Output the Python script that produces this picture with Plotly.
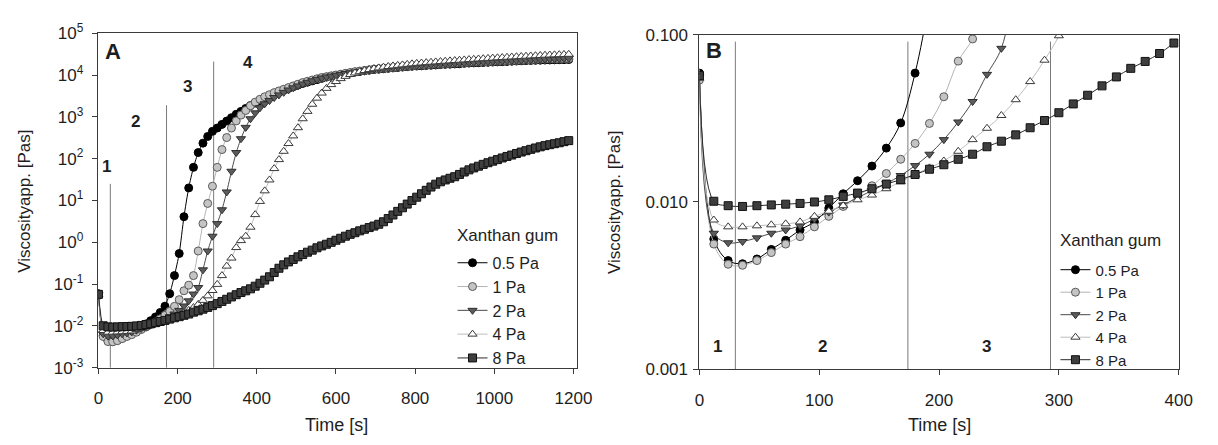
import math
import plotly.graph_objects as go

# ---------------- data ----------------
time_s = [0, 12, 24, 36, 48, 60, 72, 84, 96, 108,
          120, 132, 144, 156, 168, 180, 192, 204, 216, 228,
          240, 252, 264, 276, 288, 300, 312, 324, 336, 348,
          360, 372, 384, 396, 408, 420, 432, 444, 456, 468,
          480, 492, 504, 516, 528, 540, 552, 564, 576, 588,
          600, 612, 624, 636, 648, 660, 672, 684, 696, 708,
          720, 732, 744, 756, 768, 780, 792, 804, 816, 828,
          840, 852, 864, 876, 888, 900, 912, 924, 936, 948,
          960, 972, 984, 996, 1008, 1020, 1032, 1044, 1056, 1068,
          1080, 1092, 1104, 1116, 1128, 1140, 1152, 1164, 1176, 1188]

visc_05pa = [0.059, 0.0060, 0.00446, 0.00427, 0.00456, 0.0052, 0.0059, 0.0068, 0.0076, 0.0092,
             0.0112, 0.0134, 0.0164, 0.021, 0.0297, 0.059, 0.16, 0.54, 4.1, 20,
             62, 140, 235, 340, 450, 540, 660, 795, 955, 1150,
             1350, 1585, 1860, 2140, 2450, 2820, 3160, 3550, 3980, 4370,
             4790, 5250, 5750, 6310, 6760, 7240, 7760, 8320, 8910, 9330,
             9770, 10230, 10700, 11200, 11750, 12160, 12590, 13030, 13490, 13800,
             14130, 14450, 14790, 15140, 15490, 15850, 16220, 16410, 16600, 16980,
             17180, 17380, 17780, 17990, 18200, 18410, 18620, 19050, 19280, 19500,
             19720, 19950, 20180, 20420, 20650, 20890, 21130, 21380, 21630, 21880,
             22130, 22390, 22490, 22650, 22800, 22910, 23070, 23230, 23330, 23440]

visc_1pa = [0.0536, 0.0056, 0.00424, 0.00418, 0.00446, 0.00498, 0.0056, 0.0062, 0.0071, 0.0082,
            0.0094, 0.0108, 0.0125, 0.0148, 0.018, 0.0224, 0.0295, 0.0426, 0.0696, 0.0945,
            0.16, 0.62, 2.8, 8.5, 22, 62, 165, 320, 540, 800,
            1100, 1420, 1850, 2250, 2630, 3020, 3390, 3800, 4170, 4570,
            5010, 5500, 6030, 6610, 7080, 7590, 8130, 8710, 9120, 9550,
            10000, 10470, 10960, 11480, 12020, 12450, 12880, 13340, 13800, 14130,
            14450, 14790, 15140, 15490, 15850, 16220, 16600, 16980, 17180, 17380,
            17780, 17990, 18200, 18620, 18840, 19050, 19500, 19720, 19950, 20180,
            20420, 20650, 20890, 21130, 21380, 21630, 21880, 22130, 22390, 22650,
            22910, 23170, 23440, 23710, 23990, 24100, 24270, 24430, 24550, 24700]

visc_2pa = [0.056, 0.0065, 0.0057, 0.0058, 0.0061, 0.0065, 0.0068, 0.0072, 0.0079, 0.0087,
            0.0096, 0.0106, 0.0117, 0.0129, 0.0144, 0.0165, 0.0193, 0.0236, 0.0301, 0.0399,
            0.058, 0.083, 0.22, 0.62, 1.4, 2.8, 6, 16, 50, 140,
            300, 560, 900, 1250, 1650, 2050, 2450, 2900, 3350, 3850,
            4400, 4950, 5500, 6100, 6700, 7300, 7900, 8500, 9000, 9450,
            9900, 10350, 10850, 11350, 11850, 12300, 12750, 13200, 13650, 14000,
            14350, 14700, 15050, 15400, 15750, 16100, 16450, 16800, 17050, 17300,
            17600, 17850, 18100, 18400, 18650, 18900, 19250, 19500, 19750, 20000,
            20250, 20500, 20750, 21000, 21250, 21500, 21800, 22050, 22300, 22550,
            22800, 23100, 23350, 23600, 23850, 24100, 24350, 24600, 24850, 25100]

visc_4pa = [0.055, 0.0078, 0.0071, 0.0071, 0.0072, 0.0073, 0.0074, 0.0076, 0.0082, 0.0088,
            0.0095, 0.0103, 0.0110, 0.0120, 0.0132, 0.0146, 0.0160, 0.0176, 0.0201, 0.0236,
            0.0276, 0.0329, 0.0409, 0.0525, 0.0705, 0.0987, 0.16, 0.27, 0.42, 0.75,
            1.1, 1.4, 2.3, 4.6, 9.5, 17, 31, 58, 95, 150,
            230, 350, 550, 900, 1350, 2000, 2800, 3700, 4800, 5900,
            7000, 8200, 9300, 10300, 11200, 12000, 12800, 13500, 14200, 14800,
            15400, 16000, 16500, 17000, 17500, 18000, 18500, 19000, 19400, 19800,
            20200, 20600, 21000, 21400, 21800, 22200, 22600, 23000, 23400, 23800,
            24200, 24600, 25000, 25400, 25800, 26200, 26600, 27000, 27400, 27800,
            28200, 28600, 29000, 29400, 29800, 30100, 30400, 30700, 31000, 31300]

visc_8pa = [0.057, 0.0101, 0.0095, 0.0094, 0.0095, 0.0096, 0.0097, 0.0098, 0.0100, 0.0103,
            0.0108, 0.0113, 0.0120, 0.0128, 0.0136, 0.0146, 0.0157, 0.0167, 0.0180, 0.0193,
            0.0214, 0.0231, 0.0252, 0.0278, 0.0307, 0.0342, 0.0386, 0.0435, 0.0495, 0.056,
            0.063, 0.0693, 0.0773, 0.0893, 0.105, 0.125, 0.15, 0.19, 0.24, 0.29,
            0.34, 0.39, 0.45, 0.51, 0.58, 0.65, 0.74, 0.82, 0.90, 1.0,
            1.12, 1.25, 1.40, 1.55, 1.70, 1.88, 2.05, 2.25, 2.45, 2.7,
            3.1, 3.7, 4.5, 5.5, 6.7, 8.2, 10, 12, 14.5, 17.5,
            21, 24.5, 28, 31, 34, 37, 42, 48, 54, 60,
            66, 73, 80, 87, 95, 104, 113, 122, 133, 144,
            155, 167, 180, 192, 205, 216, 228, 240, 255, 270]

series_names = ["0.5 Pa", "1 Pa", "2 Pa", "4 Pa", "8 Pa"]
series_values = [visc_05pa, visc_1pa, visc_2pa, visc_4pa, visc_8pa]
legend_title = "Xanthan gum"

# phase boundary lines (time, top value) and phase labels
phase_lines_a_t = [30, 172, 291]
phase_lines_a_top = [25, 1900, 21000]
phase_labels_a = ["1", "2", "3", "4"]
phase_labels_a_t = [20, 94, 226, 378]
phase_labels_a_v = [66, 770, 5340, 19700]

phase_lines_b_t = [30, 174, 293]
phase_lines_b_top = 0.091
phase_labels_b = ["1", "2", "3"]
phase_labels_b_t = [15, 103, 240]
phase_labels_b_v = [0.00137, 0.00137, 0.00137]

xticks_a = [0, 200, 400, 600, 800, 1000, 1200]
yticks_a = [1e-3, 1e-2, 1e-1, 1e0, 1e1, 1e2, 1e3, 1e4, 1e5]
yticktext_a = ["10<sup>-3</sup>", "10<sup>-2</sup>", "10<sup>-1</sup>", "10<sup>0</sup>",
               "10<sup>1</sup>", "10<sup>2</sup>", "10<sup>3</sup>", "10<sup>4</sup>", "10<sup>5</sup>"]
xticks_b = [0, 100, 200, 300, 400]
yticks_b = [0.001, 0.01, 0.1]
yticktext_b = ["0.001", "0.010", "0.100"]

# ---------------- styles ----------------
FONT = "Liberation Sans, Arial, sans-serif"
TXT = "#1e1e1e"
AX = "#3a3a3a"
styles = [
    dict(symbol="circle", fill="#000000", edge="#000000", line="#000000"),
    dict(symbol="circle", fill="#c4c4c4", edge="#5a5a5a", line="#b4b4b4"),
    dict(symbol="triangle-down", fill="#5c5c5c", edge="#2e2e2e", line="#4a4a4a"),
    dict(symbol="triangle-up", fill="#ffffff", edge="#3a3a3a", line="#bdbdbd"),
    dict(symbol="square", fill="#3e3e3e", edge="#111111", line="#2a2a2a"),
]

fig = go.Figure()

# phase lines
for t, top in zip(phase_lines_a_t, phase_lines_a_top):
    fig.add_trace(go.Scatter(x=[t, t], y=[1e-3, top], mode="lines", xaxis="x", yaxis="y",
                             line=dict(color="#7a7a7a", width=1), showlegend=False, hoverinfo="skip"))
for t in phase_lines_b_t:
    fig.add_trace(go.Scatter(x=[t, t], y=[1e-3, phase_lines_b_top], mode="lines", xaxis="x2", yaxis="y2",
                             line=dict(color="#7a7a7a", width=1), showlegend=False, hoverinfo="skip"))

for name, vals, st in zip(series_names, series_values, styles):
    fig.add_trace(go.Scatter(
        x=time_s, y=vals, mode="lines+markers", name=name, xaxis="x", yaxis="y", legend="legend",
        line=dict(color=st["line"], width=1, shape="spline", smoothing=0.6),
        marker=dict(symbol=st["symbol"], size=8, color=st["fill"], line=dict(color=st["edge"], width=1))))
    tb = [t for t in time_s if t <= 400]
    vb = vals[:len(tb)]
    fig.add_trace(go.Scatter(
        x=tb, y=vb, mode="lines+markers", name=name, xaxis="x2", yaxis="y2", legend="legend2",
        line=dict(color=st["line"], width=1, shape="spline", smoothing=1.0),
        marker=dict(symbol=st["symbol"], size=8, color=st["fill"], line=dict(color=st["edge"], width=1))))

W, H = 1218, 445

def px(xp):
    return xp / W

def py(yp):
    return 1 - yp / H

axis_common = dict(showline=True, linecolor=AX, linewidth=1, mirror=True, ticks="outside",
                   ticklen=5, tickcolor=AX, tickwidth=1, showgrid=False, zeroline=False,
                   tickfont=dict(family=FONT, size=17, color=TXT))

annotations = []
for lab, t, v in zip(phase_labels_a, phase_labels_a_t, phase_labels_a_v):
    annotations.append(dict(text="<b>%s</b>" % lab, x=t, y=math.log10(v), xref="x", yref="y",
                            showarrow=False, font=dict(family=FONT, size=17, color=TXT)))
for lab, t, v in zip(phase_labels_b, phase_labels_b_t, phase_labels_b_v):
    annotations.append(dict(text="<b>%s</b>" % lab, x=t, y=math.log10(v), xref="x2", yref="y2",
                            showarrow=False, font=dict(family=FONT, size=17, color=TXT)))

def paper_text(text, x, y, size, angle=0, xanchor="center"):
    return dict(text=text, x=px(x), y=py(y), xref="paper", yref="paper", showarrow=False,
                xanchor=xanchor, yanchor="middle", textangle=angle,
                font=dict(family=FONT, size=size, color=TXT))

annotations += [
    paper_text("<b>A</b>", 110, 42, 22),
    paper_text("<b>B</b>", 721, 41, 22),
    paper_text("Time [s]", 337, 434, 18),
    paper_text("Time [s]", 950, 434, 18),
    paper_text("Viscosityapp. [Pas]", 19, 199, 17, angle=-90),
    paper_text("Viscosityapp. [Pas]", 619, 200, 17, angle=-90),
    paper_text(legend_title, 458, 235, 17, xanchor="left"),
    paper_text(legend_title, 1071, 240, 17, xanchor="left"),
]

fig.update_layout(
    width=W, height=H, margin=dict(l=0, r=0, t=0, b=0),
    paper_bgcolor="white", plot_bgcolor="white",
    font=dict(family=FONT, color=TXT),
    xaxis=dict(domain=[px(94.2), px(582)], range=[-2, 1210], tickvals=xticks_a, anchor="y",
               ticklabelstandoff=10, **axis_common),
    yaxis=dict(domain=[py(374.3), py(22.3)], type="log", range=[-3, 5], tickvals=yticks_a,
               ticktext=yticktext_a, anchor="x", ticklabelstandoff=5, **axis_common),
    xaxis2=dict(domain=[px(706), px(1193.3)], range=[0, 400], tickvals=xticks_b, anchor="y2",
                ticklabelstandoff=10, **axis_common),
    yaxis2=dict(domain=[py(375.7), py(24)], type="log", range=[-3, -1], tickvals=yticks_b,
                ticktext=yticktext_b, anchor="x2", ticklabelstandoff=2, **axis_common),
    legend=dict(x=px(455), y=py(246), xanchor="left", yanchor="top",
                bgcolor="rgba(0,0,0,0)", font=dict(family=FONT, size=16, color=TXT),
                itemwidth=30, tracegroupgap=0),
    legend2=dict(x=px(1068), y=py(254), xanchor="left", yanchor="top",
                 bgcolor="rgba(0,0,0,0)", font=dict(family=FONT, size=15, color=TXT),
                 itemwidth=30, tracegroupgap=0),
    annotations=annotations,
    showlegend=True,
)

fig.write_html("out.html")
